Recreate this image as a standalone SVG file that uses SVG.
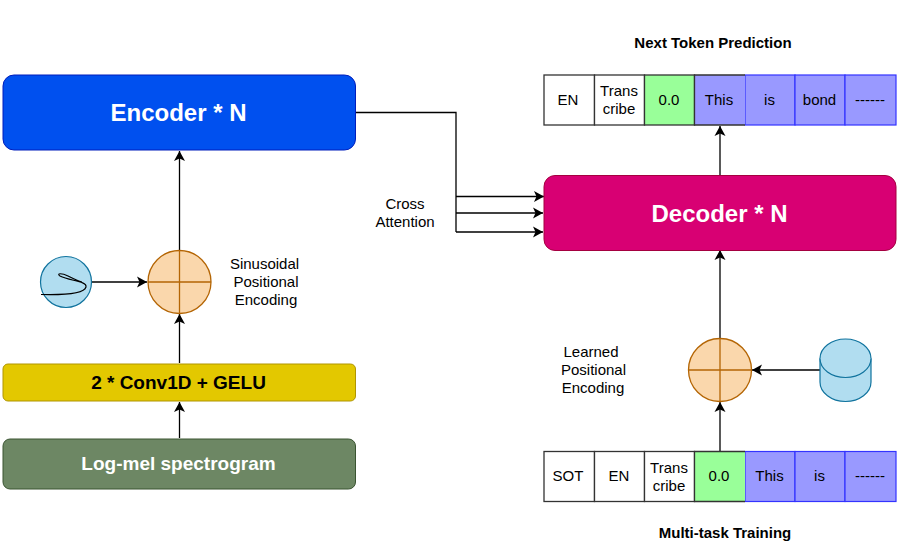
<svg xmlns="http://www.w3.org/2000/svg" width="904" height="560" viewBox="0 0 904 560">
<style>
text{font-family:"Liberation Sans",Arial,sans-serif;fill:#000;text-anchor:middle}
.s{font-size:15px}
.w{font-weight:bold;fill:#fff}
.b{font-weight:bold}
.c{stroke:#000;stroke-width:1.300;fill:none}
.a{marker-end:url(#ah)}
.k{stroke:#333;stroke-width:1.300}
.u{stroke:#3333ff;stroke-width:1.200;fill:#9999ff}
.g{fill:#99ff99}
.n{fill:#fff}
.o{fill:#fad7ac;stroke:#b46504;stroke-width:1.300}
.h{fill:#b1ddf0;stroke:#10739e;stroke-width:1.200}
</style>
<defs>
<marker id="ah" markerUnits="userSpaceOnUse" markerWidth="12" markerHeight="12" refX="10.500" refY="6" orient="auto">
<path d="M0.500 0.500 L10.500 6 L0.500 11.500 L3 6 Z" fill="#000"/>
</marker>
</defs>
<rect width="904" height="560" fill="#fff"/>

<g id="connectors">
<path class="c a" d="M179.500 438V402"/>
<path class="c a" d="M179.500 363V314"/>
<path class="c a" d="M179.500 250V151"/>
<path class="c a" d="M75 282H147"/>
<path class="c" d="M356 112.500H456V232"/>
<path class="c a" d="M456 196.500H544"/>
<path class="c a" d="M456 213H543"/>
<path class="c a" d="M456 232H543"/>
<path class="c a" d="M720 175V126"/>
<path class="c a" d="M720 339V250"/>
<path class="c a" d="M720 451V402"/>
<path class="c a" d="M820 370H752"/>
</g>

<g id="encoder"><rect x="3" y="75" width="352.500" height="75" rx="11" fill="#0050ef" stroke="#001dbc" stroke-width="1"/><text class="w" x="178.500" y="121" font-size="24">Encoder * N</text></g>
<g id="decoder"><rect x="544" y="175.500" width="352" height="75" rx="11" fill="#d80073" stroke="#a50040" stroke-width="1"/><text class="w" x="719.500" y="222" font-size="24">Decoder * N</text></g>
<g id="conv"><rect x="3" y="364" width="352.500" height="37" rx="5" fill="#e3c800" stroke="#b09500" stroke-width="1"/><text class="b" x="178.500" y="389" font-size="19">2 * Conv1D + GELU</text></g>
<g id="logmel"><rect x="3" y="439" width="352.500" height="50" rx="7" fill="#6d8764" stroke="#3a5431" stroke-width="1"/><text class="w" x="178.500" y="470" font-size="19">Log-mel spectrogram</text></g>

<g id="add-encoder"><circle class="o" cx="179.500" cy="282" r="31.500"/><path d="M148 282H211M179.500 250.500V313.500" stroke="#b46504" stroke-width="1.300"/></g>
<g id="add-decoder"><circle class="o" cx="720" cy="370" r="31.500"/><path d="M688.500 370H751.500M720 338.500V401.500" stroke="#b46504" stroke-width="1.300"/></g>

<g id="sinusoid"><circle class="h" cx="66" cy="282" r="25.500"/><path d="M41 294.500C60 295 84 294 86 287C87 281 70 281 60 276C56 273 62 273 68 276C74 279 78 281 82 282" fill="none" stroke="#000" stroke-width="1.200"/></g>
<g id="database"><path class="h" d="M820 358.500A25.500 19.500 0 0 1 871 358.500V382A25.500 19.500 0 0 1 820 382Z"/><path class="h" d="M820 358.500A25.500 19 0 0 0 871 358.500" fill="none"/></g>

<g id="label-sinusoidal"><text class="s" x="264.500" y="269">Sinusoidal</text><text class="s" x="266" y="287">Positional</text><text class="s" x="266" y="305">Encoding</text></g>
<g id="label-cross"><text class="s" x="405" y="209">Cross</text><text class="s" x="405" y="227">Attention</text></g>
<g id="label-learned"><text class="s" x="591" y="357">Learned</text><text class="s" x="593.500" y="375">Positional</text><text class="s" x="593" y="393">Encoding</text></g>
<g id="label-next"><text class="b" x="713" y="48" font-size="15">Next Token Prediction</text></g>
<g id="label-multi"><text class="b" x="725" y="538" font-size="15">Multi-task Training</text></g>

<g id="top-row">
<g id="t-en"><rect class="n k" x="544" y="75" width="50.500" height="50"/><text class="s" x="568" y="105">EN</text></g>
<g id="t-trans"><rect class="n k" x="594.500" y="75" width="50" height="50"/><text class="s" x="619" y="96">Trans</text><text class="s" x="619" y="114">cribe</text></g>
<g id="t-00"><rect class="g k" x="644.500" y="75" width="50" height="50"/><text class="s" x="669" y="105">0.0</text></g>
<g id="t-is"><rect class="u" x="745" y="75" width="50" height="50"/><text class="s" x="769.500" y="105">is</text></g>
<g id="t-bond"><rect class="u" x="795" y="75" width="50" height="50"/><text class="s" x="819.500" y="105">bond</text></g>
<g id="t-dash"><rect class="u" x="845" y="75" width="51" height="50"/><text class="s" x="870" y="105">------</text></g>
<g id="t-this"><path d="M745 75H694.500V125H745" fill="#9999ff" stroke="#333" stroke-width="1.300"/><text class="s" x="719" y="105">This</text></g>
</g>

<g id="bottom-row">
<g id="b-sot"><rect class="n k" x="544" y="451.500" width="50.500" height="50"/><text class="s" x="568" y="481">SOT</text></g>
<g id="b-en"><rect class="n k" x="594.500" y="451.500" width="50" height="50"/><text class="s" x="619" y="481">EN</text></g>
<g id="b-trans"><rect class="n k" x="644.500" y="451.500" width="50" height="50"/><text class="s" x="669" y="473">Trans</text><text class="s" x="669" y="491">cribe</text></g>
<g id="b-this"><rect class="u" x="745" y="451.500" width="50" height="50"/><text class="s" x="769.500" y="481">This</text></g>
<g id="b-is"><rect class="u" x="795" y="451.500" width="50" height="50"/><text class="s" x="819.500" y="481">is</text></g>
<g id="b-dash"><rect class="u" x="845" y="451.500" width="51" height="50"/><text class="s" x="870" y="481">------</text></g>
<g id="b-00"><path d="M745 451.500H694.500V501.500H745" fill="#99ff99" stroke="#333" stroke-width="1.300"/><text class="s" x="719" y="481">0.0</text></g>
</g>
</svg>
